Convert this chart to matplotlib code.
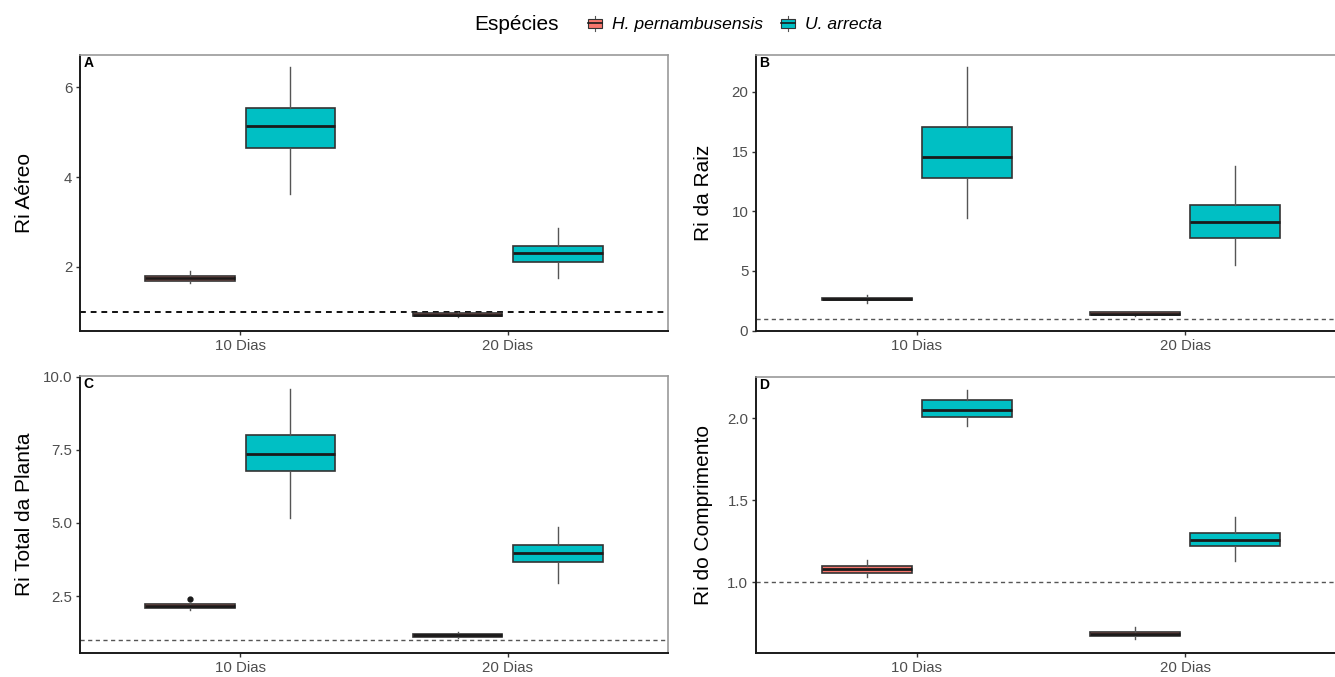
import matplotlib
matplotlib.use("Agg")
import matplotlib.pyplot as plt
from matplotlib.patches import Rectangle
from matplotlib.lines import Line2D
from matplotlib.legend_handler import HandlerBase

plt.rcParams['font.family'] = ['Liberation Sans', 'DejaVu Sans']

days = ["10 Dias", "20 Dias"]
species = ["H. pernambusensis", "U. arrecta"]
colors = ["#F8766D", "#00BFC4"]

# Panel A: Ri Aéreo
a_h_lo = [1.63, 0.88]; a_h_q1 = [1.69, 0.91]; a_h_med = [1.74, 0.93]; a_h_q3 = [1.80, 0.96]; a_h_hi = [1.90, 1.00]
a_u_lo = [3.62, 1.75]; a_u_q1 = [4.65, 2.10]; a_u_med = [5.145, 2.30]; a_u_q3 = [5.53, 2.47]; a_u_hi = [6.45, 2.87]
# Panel B: Ri da Raiz
b_h_lo = [2.33, 1.20]; b_h_q1 = [2.53, 1.30]; b_h_med = [2.65, 1.41]; b_h_q3 = [2.76, 1.53]; b_h_hi = [2.95, 1.60]
b_u_lo = [9.4, 5.48]; b_u_q1 = [12.82, 7.78]; b_u_med = [14.59, 9.07]; b_u_q3 = [17.06, 10.5]; b_u_hi = [22.1, 13.83]
# Panel C: Ri Total da Planta
c_h_lo = [2.02, 1.08]; c_h_q1 = [2.09, 1.12]; c_h_med = [2.15, 1.17]; c_h_q3 = [2.23, 1.22]; c_h_hi = [2.27, 1.28]
c_h_out = [[2.41], []]
c_u_lo = [5.18, 2.96]; c_u_q1 = [6.76, 3.67]; c_u_med = [7.37, 3.96]; c_u_q3 = [8.02, 4.24]; c_u_hi = [9.57, 4.86]
# Panel D: Ri do Comprimento
d_h_lo = [1.03, 0.655]; d_h_q1 = [1.06, 0.675]; d_h_med = [1.08, 0.688]; d_h_q3 = [1.10, 0.70]; d_h_hi = [1.136, 0.726]
d_u_lo = [1.95, 1.13]; d_u_q1 = [2.008, 1.22]; d_u_med = [2.05, 1.26]; d_u_q3 = [2.11, 1.30]; d_u_hi = [2.17, 1.40]

ref_line = 1.0

def stats(lo, q1, med, q3, hi, out=None):
    res = []
    for i in range(len(lo)):
        res.append(dict(whislo=lo[i], q1=q1[i], med=med[i], q3=q3[i], whishi=hi[i],
                        fliers=(out[i] if out else [])))
    return res

panels = [
    dict(letter="A", ylabel="Ri Aéreo",
         h=stats(a_h_lo, a_h_q1, a_h_med, a_h_q3, a_h_hi),
         u=stats(a_u_lo, a_u_q1, a_u_med, a_u_q3, a_u_hi),
         ylim=(0.57, 6.72), yticks=[2, 4, 6], fmt="{:.0f}", dash=("#111111", 1.4)),
    dict(letter="B", ylabel="Ri da Raiz",
         h=stats(b_h_lo, b_h_q1, b_h_med, b_h_q3, b_h_hi),
         u=stats(b_u_lo, b_u_q1, b_u_med, b_u_q3, b_u_hi),
         ylim=(-0.03, 23.1), yticks=[0, 5, 10, 15, 20], fmt="{:.0f}", dash=("#555555", 1.0)),
    dict(letter="C", ylabel="Ri Total da Planta",
         h=stats(c_h_lo, c_h_q1, c_h_med, c_h_q3, c_h_hi, c_h_out),
         u=stats(c_u_lo, c_u_q1, c_u_med, c_u_q3, c_u_hi),
         ylim=(0.56, 10.02), yticks=[2.5, 5.0, 7.5, 10.0], fmt="{:.1f}", dash=("#555555", 1.0)),
    dict(letter="D", ylabel="Ri do Comprimento",
         h=stats(d_h_lo, d_h_q1, d_h_med, d_h_q3, d_h_hi),
         u=stats(d_u_lo, d_u_q1, d_u_med, d_u_q3, d_u_hi),
         ylim=(0.57, 2.25), yticks=[1.0, 1.5, 2.0], fmt="{:.1f}", dash=("#555555", 1.0)),
]

W, H = 1335, 677
fig = plt.figure(figsize=(W / 100, H / 100), dpi=100)
fig.patch.set_facecolor("white")

rects = [
    (80, 55, 668, 331),
    (756, 55, 1346, 331),
    (80, 376, 668, 653),
    (756, 377, 1346, 653),
]
label_x = [34, 713, 34, 713]

offset = 0.1875
bwidth = 0.335

for p, (x0, y0, x1, y1), lx in zip(panels, rects, label_x):
    ax = fig.add_axes([x0 / W, 1 - y1 / H, (x1 - x0) / W, (y1 - y0) / H])
    ax.set_xlim(0.4, 2.6)
    ax.set_ylim(*p["ylim"])
    col, lw = p["dash"]
    ax.axhline(ref_line, color=col, lw=lw, ls=(0, (3, 2.5)), zorder=1)
    centers = [1, 2]
    for grp, c, sgn in ((p["h"], colors[0], -1), (p["u"], colors[1], 1)):
        pos = [x + sgn * offset for x in centers]
        ax.bxp(grp, positions=pos, widths=bwidth, showcaps=False, patch_artist=True,
               boxprops=dict(facecolor=c, edgecolor="#333333", linewidth=1.2),
               medianprops=dict(color="#1a1a1a", linewidth=2.0),
               whiskerprops=dict(color="#555555", linewidth=1.0),
               flierprops=dict(marker="o", markersize=3.5, markerfacecolor="#1a1a1a",
                               markeredgecolor="#1a1a1a"),
               manage_ticks=False, zorder=3)
    ax.set_xticks(centers)
    ax.set_xticklabels(days)
    ax.set_yticks(p["yticks"])
    ax.set_yticklabels([p["fmt"].format(v) for v in p["yticks"]])
    ax.tick_params(axis="both", labelsize=10.8, labelcolor="#4D4D4D", color="#333333",
                   length=3, width=1, pad=2.5)
    ax.set_ylabel(p["ylabel"], fontsize=15, color="black")
    ax.yaxis.set_label_coords((lx - x0) / (x1 - x0), 0.5)
    for s in ("left", "bottom"):
        ax.spines[s].set_color("#1a1a1a")
        ax.spines[s].set_linewidth(1.4)
    for s in ("top", "right"):
        ax.spines[s].set_color("#9a9a9a")
        ax.spines[s].set_linewidth(1.2)
    ax.text(0.006, 0.995, p["letter"], transform=ax.transAxes, ha="left", va="top",
            fontsize=10, fontweight="bold", color="black")


class BoxHandler(HandlerBase):
    def create_artists(self, legend, orig_handle, xdescent, ydescent, width, height, fontsize, trans):
        c = orig_handle.get_facecolor()
        bw = width * 0.8
        bx = xdescent + (width - bw) / 2
        by = -ydescent + height * 0.2
        bh = height * 0.6
        r = Rectangle((bx, by), bw, bh, facecolor=c, edgecolor="#333333", lw=0.8, transform=trans)
        cx = bx + bw / 2
        m = Line2D([bx, bx + bw], [by + bh / 2, by + bh / 2], color="#1a1a1a", lw=1.2, transform=trans)
        w1 = Line2D([cx, cx], [-ydescent, by], color="#555555", lw=0.8, transform=trans)
        w2 = Line2D([cx, cx], [by + bh, -ydescent + height], color="#555555", lw=0.8, transform=trans)
        return [w1, w2, r, m]


handles = [Rectangle((0, 0), 1, 1, facecolor=c) for c in colors]
leg = fig.legend(handles, species, loc="center left", bbox_to_anchor=(586 / W, 1 - 24 / H),
                 ncol=2, frameon=False, handler_map={Rectangle: BoxHandler()},
                 prop=dict(size=12.6, style="italic"), handlelength=1.0, handleheight=1.0,
                 handletextpad=0.5, columnspacing=0.9, borderaxespad=0, borderpad=0)
fig.text(474 / W, 1 - 24 / H, "Espécies", fontsize=15, ha="left", va="center", color="black")

fig.savefig("out.png", dpi=100, facecolor="white")
